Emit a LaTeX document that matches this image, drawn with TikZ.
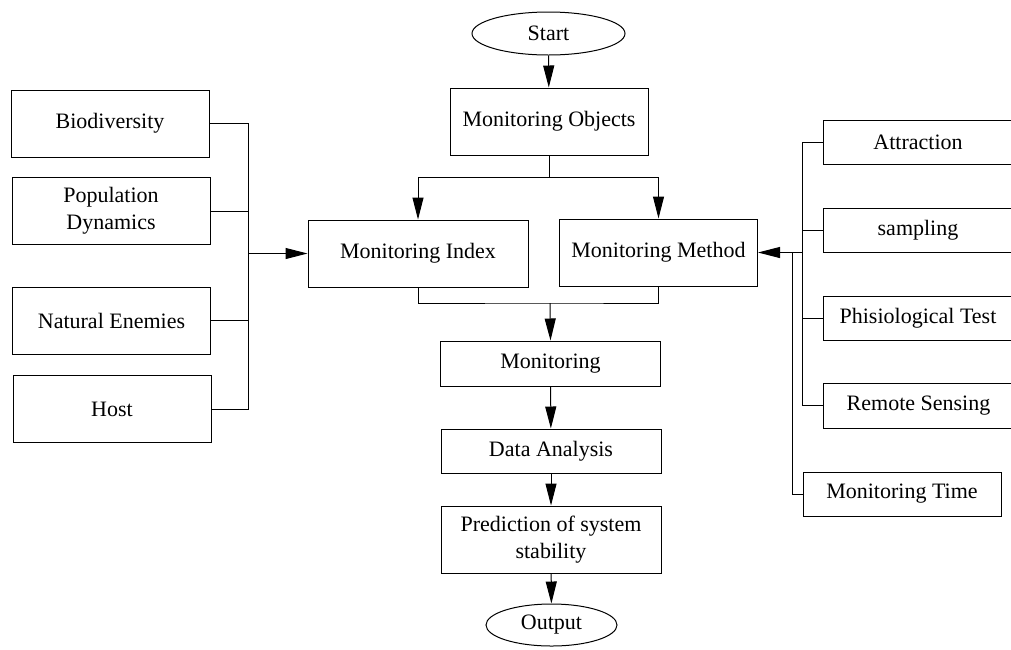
\documentclass[tikz,border=0pt]{standalone}
\usepackage{fontspec}
\setmainfont{Liberation Serif}
\usepackage{tikz}
\usetikzlibrary{calc, positioning, shapes, arrows.meta}
\tikzstyle{box}=[draw, rectangle, inner sep=0pt, minimum width=99pt, minimum height=33.5pt, align=center]
\tikzstyle{term}=[draw, ellipse, inner sep=0pt, minimum width=76.5pt, minimum height=21.5pt]
\tikzstyle{arr}=[-{Triangle[length=11pt,width=5.5pt]}]

\begin{document}
\begin{tikzpicture}[x=0.5pt, y=-0.5pt, line width=0.5pt, font=\fontsize{11}{13.5}\selectfont]
		\useasboundingbox (0,0) rectangle (1011,649);
		% left column
		\node[box] (bio) at (110,123.5) {Biodiversity};
		\node[box] (pop) at (111,211) {Population\\Dynamics};
		\node[box] (nat) at (111.5,320.5) {Natural Enemies};
		\node[box] (host) at (112,409) {Host};
		% middle column
		\node[term] (start) at (548.5,33.5) {Start};
		\node[box] (obj) at (549,121.5) {Monitoring Objects};
		\node[box, minimum width=110pt] (idx) at (418,253.5) {Monitoring Index};
		\node[box] (meth) at (658.5,252.5) {Monitoring Method};
		\node[box, minimum width=110pt, minimum height=22.5pt] (mon) at (550.5,363.5) {Monitoring};
		\node[box, minimum width=110pt, minimum height=22pt] (data) at (551,451) {Data Analysis};
		\node[box, minimum width=110pt] (pred) at (551,539.5) {Prediction of system\\stability};
		\node[term, minimum width=65.5pt, minimum height=21pt] (out) at (551.5,625) {Output};
		% right column
		\node[box, minimum width=95pt, minimum height=22pt] (attr) at (918,142) {Attraction};
		\node[box, minimum width=95pt, minimum height=22pt] (samp) at (918,230) {sampling};
		\node[box, minimum width=95pt, minimum height=22pt] (phis) at (918,318) {Phisiological Test};
		\node[box, minimum width=95pt, minimum height=22.5pt] (remo) at (918.5,405.5) {Remote Sensing};
		\node[box, minimum width=99pt, minimum height=22pt] (time) at (902,494) {Monitoring Time};

		\coordinate (lbus) at (248,253.5);
		\coordinate (split) at (549,177);
		\coordinate (merge) at (550,303);
		\coordinate (rbus) at (802,252.5);
		\coordinate (tbus) at (792,252.5);

		\draw (bio.east) -| (host.east -| lbus) -- (host.east);
		\draw (pop.east) -- (pop.east -| lbus);
		\draw (nat.east) -- (nat.east -| lbus);
		\draw[arr] (lbus) -- (idx.west);

		\draw[arr] (start) -- (obj);
		\draw (obj.south) -- (split);
		\draw[arr] (split) -| (idx.north);
		\draw[arr] (split) -| (meth.north);
		\draw (idx.south) |- (merge) -| (meth.south);
		\draw[arr] (merge) -- (mon.north);
		\draw[arr] (mon) -- (data);
		\draw[arr] (data) -- (pred);
		\draw[arr] (pred) -- (out);

		\draw (attr.west) -| (remo.west -| rbus) -- (remo.west);
		\draw (samp.west) -- (samp.west -| rbus);
		\draw (phis.west) -- (phis.west -| rbus);
		\draw[arr] (rbus) -- (meth.east);
		\draw (tbus) |- (time.west);
	\end{tikzpicture}
\end{document}
